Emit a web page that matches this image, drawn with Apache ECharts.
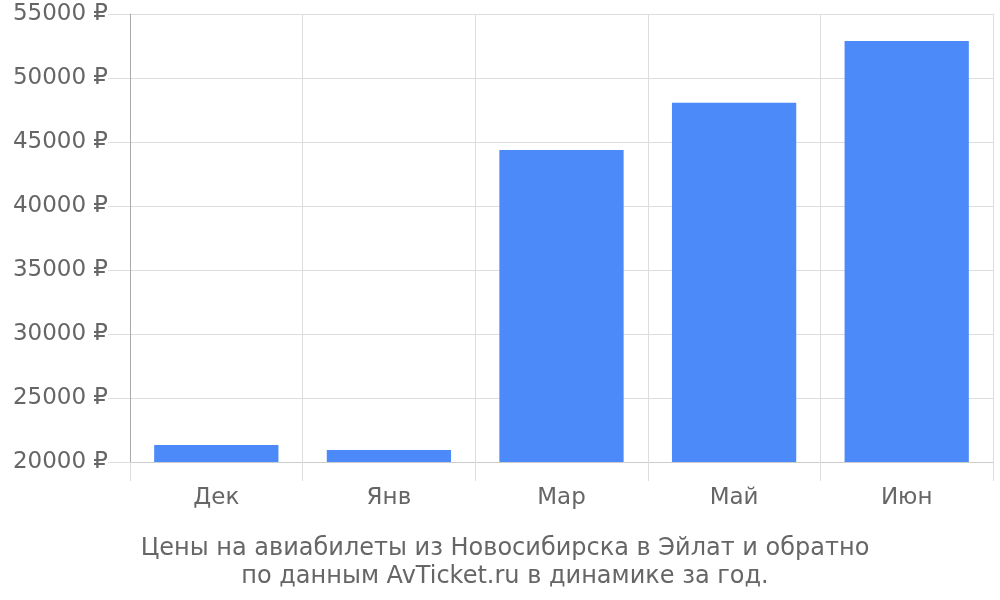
<!DOCTYPE html>
<html><head><meta charset="utf-8">
<script src="https://cdn.jsdelivr.net/npm/echarts@6/dist/echarts.min.js"></script>
<style>html,body{margin:0;padding:0;background:#fff}#c{width:1000px;height:600px}</style>
</head><body><div id="c"></div>
<script>
const categories = ['Дек', 'Янв', 'Мар', 'Май', 'Июн'];
const prices = [21330, 20940, 44380, 48060, 52890];
const yMin = 20000, yMax = 55000, yStep = 5000;
const titleText = 'Цены на авиабилеты из Новосибирска в Эйлат и обратно\nпо данным AvTicket.ru в динамике за год.';

const chart = echarts.init(document.getElementById('c'));
chart.setOption({
  animation: false,
  textStyle: { fontFamily: 'DejaVu Sans' },
  title: {
    text: titleText, left: 500, top: 530, textAlign: 'center',
    textStyle: { fontSize: 24, fontWeight: 'normal', color: '#666', lineHeight: 28, fontFamily: 'DejaVu Sans' }
  },
  grid: { left: 130, right: 7, top: 14, bottom: 138 },
  xAxis: {
    type: 'category', data: categories,
    axisLine: { lineStyle: { color: '#ccc' } },
    axisTick: { show: true, length: 19, lineStyle: { color: '#ddd' } },
    splitLine: { show: true, lineStyle: { color: '#ddd' } },
    axisLabel: { fontSize: 23, color: '#666', margin: 25, fontFamily: 'DejaVu Sans' }
  },
  yAxis: {
    type: 'value', min: yMin, max: yMax, interval: yStep,
    axisLine: { show: true, lineStyle: { color: '#aaa' } },
    axisTick: { show: true, length: 22, lineStyle: { color: '#ddd' } },
    splitLine: { lineStyle: { color: '#ddd' } },
    axisLabel: { fontSize: 23, color: '#666', margin: 22, padding: [3, 0, 0, 0], formatter: v => v + ' ₽', fontFamily: 'DejaVu Sans' }
  },
  series: [{
    type: 'bar', data: prices, barWidth: '72%',
    itemStyle: { color: '#4d8af9' }
  }]
});
</script></body></html>
